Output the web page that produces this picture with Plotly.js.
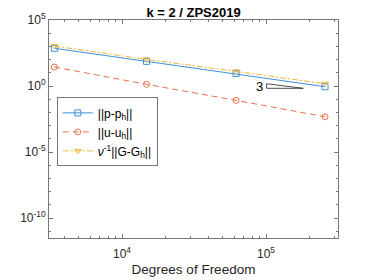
<!DOCTYPE html>
<html><head><meta charset="utf-8">
<script src="https://cdn.plot.ly/plotly-3.0.1.min.js"></script>
<style>html,body{margin:0;padding:0;background:#fff}#c{width:374px;height:280px}</style>
</head><body><div id="c"></div>
<script>
const dof = [3390, 14800, 62000, 257000];
const errP = [724, 74, 9.1, 0.89];
const errU = [27.5, 1.35, 0.083, 0.0047];
const errG = [1070, 105, 12.9, 1.48];
const triX = [101000, 101000, 181500, 101000];
const triY = [1.49, 0.676, 0.676, 1.49];
const slopeLabel = '3';
const xTickVals = [1e4, 1e5];
const xTickText = ['10<sup>4</sup>', '10<sup>5</sup>'];
const yTickVals = [1e-10, 1e-5, 1, 1e5];
const yTickText = ['10<sup>-10</sup>', '10<sup>-5</sup>', '10<sup>0</sup>', '10<sup>5</sup>'];

const xMinor = [];
for (const d of [1e3, 1e4, 1e5]) for (let m = 2; m <= 9; m++) xMinor.push(m * d);
const yMinor = [];
for (let e = -11; e <= 5; e++) yMinor.push(Math.pow(10, e));

const FONT = 'Liberation Sans, Arial, sans-serif';
const cP = '#3f8fdc', cU = '#e8714a', cG = '#eeb83a';
const traces = [
  {x: dof, y: errP, name: '||p-p<sub>h</sub>||', mode: 'lines+markers',
   line: {color: cP, width: 1}, marker: {symbol: 'square-open', size: 6, color: cP, line: {width: 1}}},
  {x: dof, y: errU, name: '||u-u<sub>h</sub>||', mode: 'lines+markers',
   line: {color: cU, width: 1, dash: '6px,4px'}, marker: {symbol: 'circle-open', size: 6, color: cU, line: {width: 1}}},
  {x: dof, y: errG, name: '<i>ν</i><sup>-1</sup>||G-G<sub>h</sub>||', mode: 'lines+markers',
   line: {color: cG, width: 1, dash: '6px,2px,2px,2px'}, marker: {symbol: 'triangle-down-open', size: 6, color: cG, line: {width: 1}}},
  {x: triX, y: triY, mode: 'lines', showlegend: false, hoverinfo: 'skip',
   line: {color: '#222', width: 0.8}}
];
const axCommon = {
  type: 'log', showgrid: false, zeroline: false, ticks: 'inside', ticklen: 4,
  mirror: 'allticks', showline: true, linecolor: '#777', linewidth: 1, tickcolor: '#777',
  tickfont: {family: FONT, size: 12, color: '#262626'}
};
const layout = {
  width: 374, height: 280,
  margin: {l: 49, r: 36, t: 20, b: 42},
  paper_bgcolor: '#fff', plot_bgcolor: '#fff',
  title: {text: '<b>k = 2 / ZPS2019</b>', font: {family: FONT, size: 13, color: '#000'},
          x: 0.5175, xanchor: 'center', y: 0.957, yanchor: 'middle'},
  xaxis: Object.assign({}, axCommon, {
    range: [3.493, 5.5], tickmode: 'array', tickvals: xTickVals, ticktext: xTickText,
    ticklabelstandoff: 5,
    minor: {tickmode: 'array', tickvals: xMinor, ticks: 'inside', ticklen: 2, tickcolor: '#777'},
    title: {text: 'Degrees of Freedom', font: {family: FONT, size: 13.5, color: '#262626'}, standoff: 4}
  }),
  yaxis: Object.assign({}, axCommon, {
    range: [-11.5, 5], tickmode: 'array', tickvals: yTickVals, ticktext: yTickText,
    minor: {tickmode: 'array', tickvals: yMinor, ticks: 'inside', ticklen: 2, tickcolor: '#777'}
  }),
  legend: {x: 0.027, y: 0.645, xanchor: 'left', yanchor: 'top', bgcolor: '#fff',
           bordercolor: '#777', borderwidth: 1, tracegroupgap: 0, itemwidth: 30,
           font: {family: FONT, size: 12, color: '#000'}},
  annotations: [{x: Math.log10(triX[0]), y: Math.log10(Math.sqrt(triY[0] * triY[1])), xref: 'x', yref: 'y',
    text: slopeLabel, showarrow: false, xanchor: 'right', xshift: -2,
    font: {family: FONT, size: 13, color: '#000'}}],
  showlegend: true
};
Plotly.newPlot('c', traces, layout, {staticPlot: true, displayModeBar: false});
</script></body></html>
